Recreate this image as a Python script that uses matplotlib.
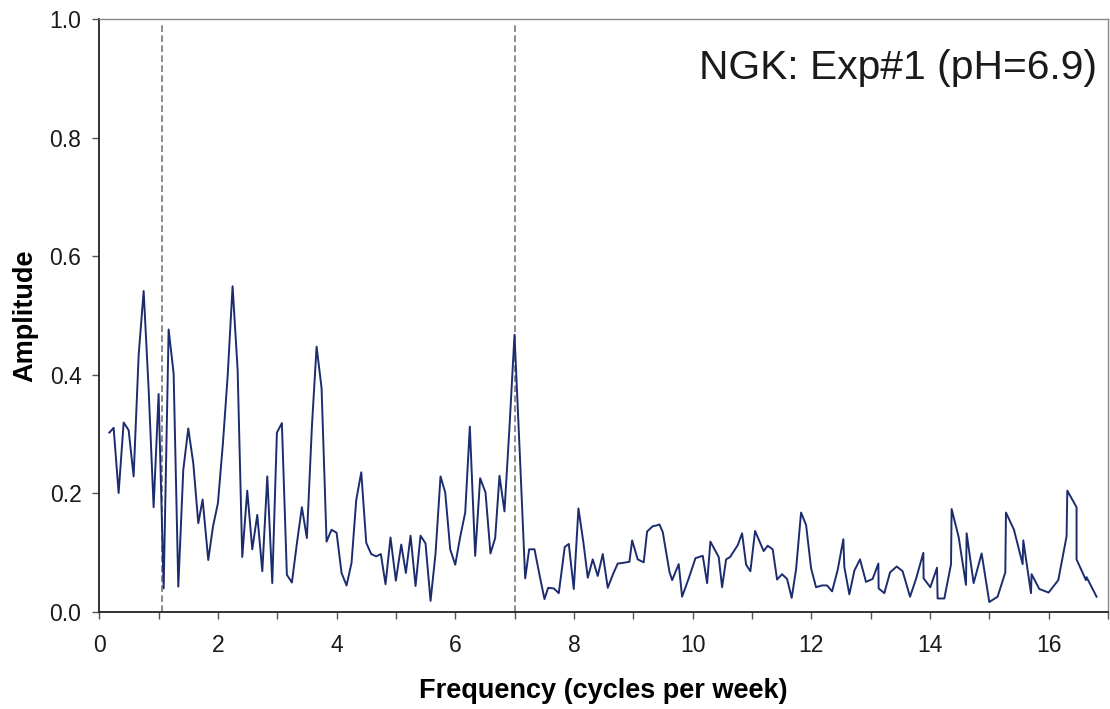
import matplotlib
matplotlib.use("Agg")
import matplotlib.pyplot as plt
from matplotlib.ticker import MultipleLocator, FixedLocator

plt.rcParams['font.family'] = ['Liberation Sans', 'DejaVu Sans']

# Spectrum: frequency (cycles per week) and amplitude
freq = [
    0.167, 0.239, 0.323, 0.408, 0.492, 0.576, 0.661, 0.745, 0.829, 0.913,
    0.997, 1.082, 1.166, 1.250, 1.329, 1.413, 1.497, 1.582, 1.666, 1.739,
    1.834, 1.913, 1.997, 2.081, 2.160, 2.244, 2.329, 2.407, 2.491, 2.576,
    2.660, 2.745, 2.829, 2.913, 2.991, 3.075, 3.159, 3.244, 3.328, 3.412,
    3.496, 3.581, 3.660, 3.744, 3.828, 3.912, 3.997, 4.081, 4.165, 4.249,
    4.328, 4.413, 4.497, 4.581, 4.665, 4.743, 4.822, 4.906, 4.996, 5.087,
    5.165, 5.244, 5.328, 5.412, 5.496, 5.581, 5.665, 5.749, 5.828, 5.912,
    5.997, 6.081, 6.165, 6.243, 6.333, 6.417, 6.507, 6.591, 6.670, 6.743,
    6.827, 6.912, 6.996, 7.085, 7.176, 7.243, 7.333, 7.417, 7.501, 7.563,
    7.658, 7.742, 7.843, 7.911, 7.995, 8.074, 8.158, 8.231, 8.315, 8.399,
    8.484, 8.568, 8.652, 8.736, 8.821, 8.933, 8.979, 9.073, 9.174, 9.231,
    9.326, 9.383, 9.439, 9.495, 9.608, 9.653, 9.764, 9.821, 9.933, 10.046,
    10.169, 10.243, 10.298, 10.438, 10.495, 10.563, 10.630, 10.759, 10.832, 10.900,
    10.972, 11.051, 11.196, 11.264, 11.348, 11.422, 11.506, 11.590, 11.668, 11.742,
    11.826, 11.911, 11.995, 12.079, 12.180, 12.265, 12.349, 12.443, 12.539, 12.556,
    12.640, 12.725, 12.820, 12.921, 13.033, 13.129, 13.134, 13.230, 13.326, 13.438,
    13.538, 13.663, 13.764, 13.887, 13.892, 14.005, 14.118, 14.128, 14.241, 14.354,
    14.364, 14.482, 14.606, 14.617, 14.735, 14.870, 14.999, 15.139, 15.269, 15.280,
    15.415, 15.561, 15.572, 15.702, 15.712, 15.842, 15.999, 16.162, 16.302, 16.314,
    16.470, 16.470, 16.628, 16.639, 16.807,
]
amp = [
    0.302, 0.310, 0.200, 0.319, 0.306, 0.228, 0.433, 0.541, 0.375, 0.176,
    0.367, 0.039, 0.476, 0.402, 0.042, 0.239, 0.309, 0.250, 0.149, 0.189,
    0.087, 0.143, 0.183, 0.284, 0.396, 0.549, 0.408, 0.092, 0.204, 0.105,
    0.163, 0.068, 0.228, 0.048, 0.302, 0.318, 0.062, 0.049, 0.115, 0.176,
    0.124, 0.312, 0.447, 0.377, 0.118, 0.138, 0.133, 0.065, 0.044, 0.082,
    0.188, 0.235, 0.116, 0.097, 0.093, 0.097, 0.046, 0.125, 0.052, 0.113,
    0.065, 0.128, 0.043, 0.128, 0.115, 0.018, 0.098, 0.228, 0.201, 0.105,
    0.079, 0.126, 0.167, 0.312, 0.094, 0.225, 0.201, 0.098, 0.124, 0.229,
    0.169, 0.312, 0.467, 0.267, 0.056, 0.105, 0.105, 0.062, 0.021, 0.040,
    0.039, 0.031, 0.109, 0.114, 0.038, 0.174, 0.116, 0.057, 0.088, 0.060,
    0.097, 0.040, 0.062, 0.081, 0.082, 0.084, 0.120, 0.088, 0.083, 0.135,
    0.144, 0.145, 0.147, 0.134, 0.067, 0.053, 0.080, 0.025, 0.056, 0.090,
    0.094, 0.048, 0.118, 0.092, 0.041, 0.088, 0.092, 0.112, 0.132, 0.079,
    0.068, 0.136, 0.102, 0.111, 0.105, 0.054, 0.063, 0.055, 0.023, 0.071,
    0.167, 0.146, 0.073, 0.041, 0.044, 0.044, 0.034, 0.070, 0.122, 0.075,
    0.029, 0.069, 0.088, 0.050, 0.055, 0.081, 0.039, 0.031, 0.066, 0.076,
    0.068, 0.025, 0.055, 0.099, 0.056, 0.041, 0.074, 0.022, 0.022, 0.080,
    0.173, 0.126, 0.045, 0.132, 0.048, 0.098, 0.016, 0.025, 0.066, 0.167,
    0.138, 0.080, 0.120, 0.031, 0.063, 0.038, 0.032, 0.053, 0.127, 0.204,
    0.176, 0.088, 0.053, 0.058, 0.025,
]

# reference frequencies marked with dashed lines
marker_freqs = [1.06, 7.0]

fig = plt.figure(figsize=(11.1, 7.09), dpi=100)
ax = fig.add_axes([0.0896, 0.1375, 0.9086, 0.8357])

for f in marker_freqs:
    ax.axvline(f, ymin=0, ymax=0.993, color='#7a7a7a', lw=1.2,
               linestyle=(0, (4, 2)), zorder=1)

ax.plot(freq, amp, color='#1c2c6e', lw=1.4, zorder=2)

ax.set_xlim(0, 17)
ax.set_ylim(0, 1.0)

ax.xaxis.set_major_locator(FixedLocator(range(0, 17, 2)))
ax.xaxis.set_minor_locator(FixedLocator(range(1, 18, 2)))
ax.yaxis.set_major_locator(MultipleLocator(0.2))
ax.yaxis.set_major_formatter(matplotlib.ticker.FormatStrFormatter('%.1f'))

ax.tick_params(axis='both', which='both', direction='out', length=5,
               width=1, color='#555555', labelsize=16.5, labelcolor='#1a1a1a')
ax.tick_params(axis='x', pad=11)
ax.tick_params(axis='y', pad=8)

for side in ['left', 'bottom']:
    ax.spines[side].set_color('#222222')
    ax.spines[side].set_linewidth(1.3)
for side in ['top', 'right']:
    ax.spines[side].set_color('#888888')
    ax.spines[side].set_linewidth(1.0)

ax.set_xlabel('Frequency (cycles per week)', fontsize=19.5, fontweight='bold',
              labelpad=15)
ax.set_ylabel('Amplitude', fontsize=19.5, fontweight='bold', labelpad=8)

ax.text(0.989, 0.917, 'NGK: Exp#1 (pH=6.9)', transform=ax.transAxes,
        ha='right', va='center', fontsize=29.3, color='#1a1a1a')

fig.savefig('out.png', dpi=100)
